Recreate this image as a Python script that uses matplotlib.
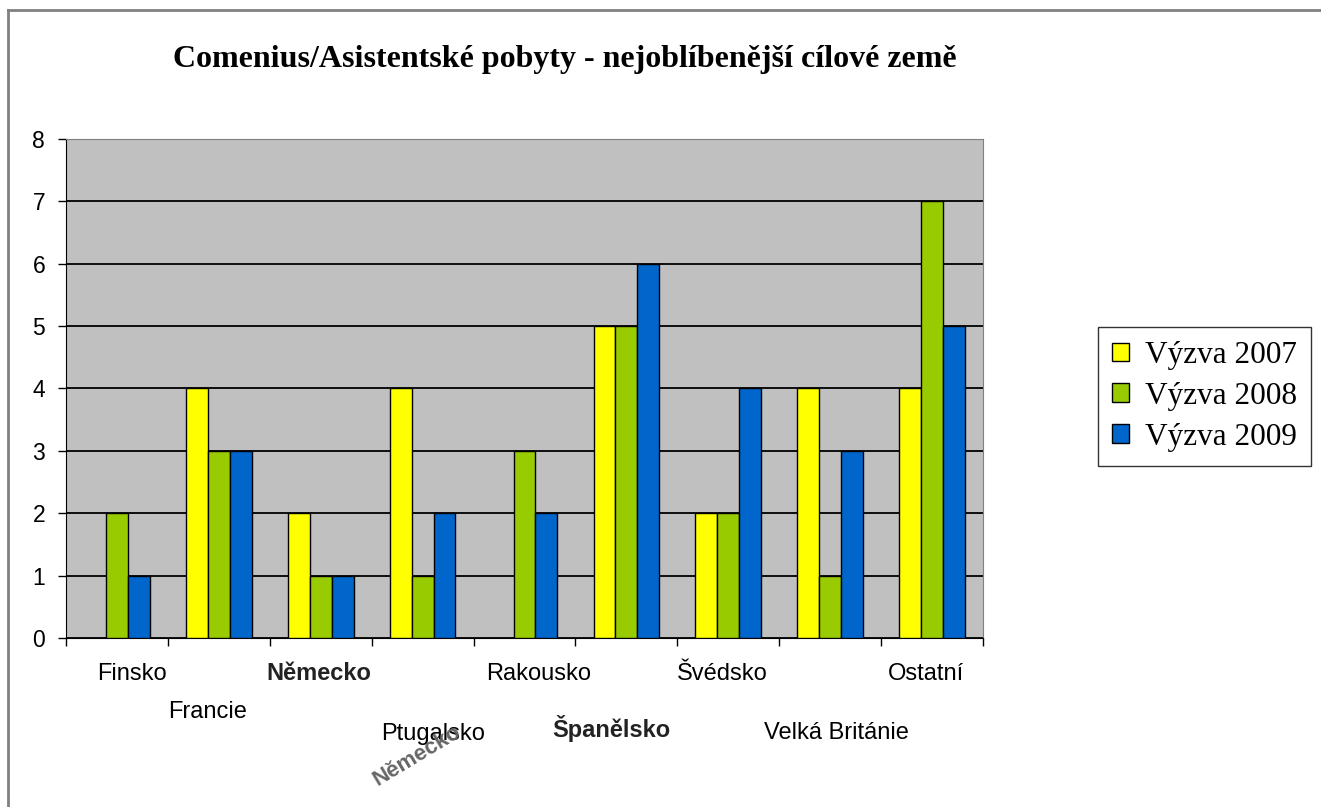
import numpy as np
import matplotlib
matplotlib.use("Agg")
import matplotlib.pyplot as plt
from matplotlib.patches import Patch
from matplotlib.lines import Line2D
from matplotlib import transforms

# --- data ---
countries = ["Finsko", "Francie", "Německo", "Ptugalsko", "Rakousko",
             "Španělsko", "Švédsko", "Velká Británie", "Ostatní"]
series = ["Výzva 2007", "Výzva 2008", "Výzva 2009"]
v2007 = [0, 4, 2, 4, 0, 5, 2, 4, 4]
v2008 = [2, 3, 1, 1, 3, 5, 2, 1, 7]
v2009 = [1, 3, 1, 2, 2, 6, 4, 3, 5]
yticks = list(range(0, 9))

COLORS = ["#FFFF00", "#99CC00", "#0066CC"]
SANS = ["Liberation Sans", "DejaVu Sans"]
SERIF = ["Liberation Serif", "DejaVu Serif"]

# label layout (x nudge in category units, y in pixels below axis, bold?)
lab_dx = [0.15, -0.11, -0.02, 0.10, 0.14, -0.15, -0.06, 0.06, -0.06]
lab_dy = [36, 74, 36, 96, 36, 90, 36, 95, 36]
lab_bold = [False, False, True, False, False, True, False, False, False]

W, H = 1321, 807
fig = plt.figure(figsize=(W / 100, H / 100), dpi=100)
ax = fig.add_axes([66 / W, 169 / H, 917 / W, 499 / H])
ax.set_facecolor("#C0C0C0")

x = np.arange(len(countries))
bw = 0.215
for k, (vals, c) in enumerate(zip([v2007, v2008, v2009], COLORS)):
    ax.bar(x + (k - 1) * bw, vals, bw, color=c, edgecolor="black",
           linewidth=1.0, zorder=3)

ax.set_xlim(-0.5, len(countries) - 0.5)
ax.set_ylim(0, 8)
ax.set_yticks(yticks)
ax.yaxis.grid(True, color="black", linewidth=1.3, zorder=1)
ax.set_axisbelow(True)
ax.tick_params(axis="y", direction="out", length=6, width=1, pad=9,
               labelsize=16.5)
for t in ax.get_yticklabels():
    t.set_fontfamily(SANS)
ax.set_xticks(np.arange(-0.5, len(countries)))
ax.set_xticklabels([])
ax.tick_params(axis="x", direction="out", length=6, width=1)
for s in ["top", "right"]:
    ax.spines[s].set_color("#808080")
for s in ["left", "bottom"]:
    ax.spines[s].set_color("black")

# staggered category labels
tr = transforms.blended_transform_factory(ax.transData, ax.transAxes)
for i, name in enumerate(countries):
    off = transforms.offset_copy(tr, fig=fig, x=0, y=-lab_dy[i] * 72 / 100,
                                 units="points")
    ax.text(i + lab_dx[i], 0, name, transform=off, ha="center", va="center",
            fontsize=17, family=SANS,
            fontweight="bold" if lab_bold[i] else "normal",
            color="#222222" if lab_bold[i] else "black")
# stray rotated label left in the original
fig.text(417 / W, 1 - 756 / H, "Německo", rotation=31, ha="center",
         va="center", fontsize=16, family=SANS, fontweight="bold",
         color="#666666")

fig.text(565 / W, 1 - 59 / H,
         "Comenius/Asistentské pobyty - nejoblíbenější cílové země",
         ha="center", va="center", fontsize=23, fontweight="bold",
         family=SERIF)

handles = [Patch(facecolor=c, edgecolor="black", linewidth=1) for c in COLORS]
leg = fig.legend(handles, series, loc="upper left",
                 bbox_to_anchor=(1098 / W, 1 - 327 / H), borderaxespad=0,
                 prop={"family": SERIF, "size": 22.5}, frameon=True,
                 fancybox=False, edgecolor="black", handlelength=0.55,
                 handleheight=0.55, handletextpad=0.5, labelspacing=0.38,
                 borderpad=0.45)
leg.get_frame().set_linewidth(1)

# outer chart border
fig.add_artist(Line2D([8 / W, 1], [1 - 10 / H, 1 - 10 / H], color="#808080",
                      linewidth=2, transform=fig.transFigure))
fig.add_artist(Line2D([8 / W, 8 / W], [0, 1 - 10 / H], color="#808080",
                      linewidth=2, transform=fig.transFigure))

fig.savefig("out.png", dpi=100)
